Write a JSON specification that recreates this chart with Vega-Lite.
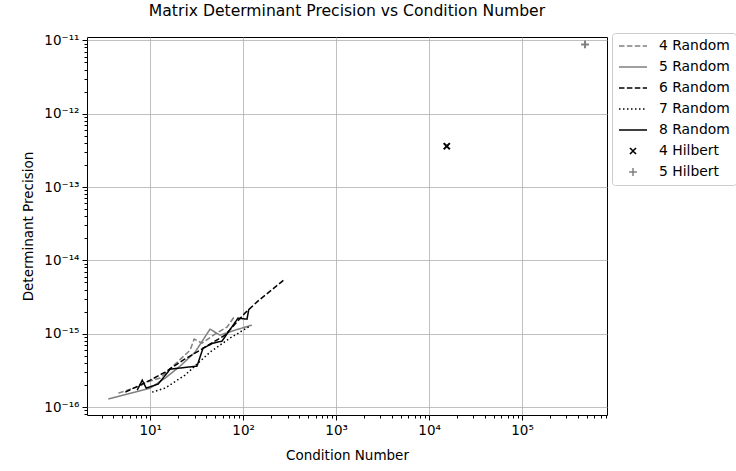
{
  "$schema": "https://vega.github.io/schema/vega-lite/v6.json",
  "width": 520,
  "height": 378,
  "autosize": {"type": "none"},
  "padding": {"left": 87, "top": 37, "right": 129, "bottom": 56},
  "background": "white",
  "title": {"text": "Matrix Determinant Precision vs Condition Number", "fontSize": 15.6, "font": "DejaVu Sans", "fontWeight": "normal", "color": "black", "anchor": "middle", "offset": 13},
  "config": {
    "font": "DejaVu Sans",
    "view": {"stroke": "black", "strokeWidth": 1},
    "axis": {"domain": false, "gridColor": "#b0b0b0", "gridWidth": 0.8, "gridOpacity": 1, "tickColor": "black", "tickWidth": 1, "labelColor": "black", "titleColor": "black", "labelFontSize": 13.5, "titleFontSize": 13.5, "titleFontWeight": "normal", "labelFont": "DejaVu Sans", "titleFont": "DejaVu Sans"},
    "legend": {"labelFont": "DejaVu Sans"}
  },
  "datasets": {
    "lines": [
      {"series": "4 Random", "cond": 4.54, "prec": 1.551e-16},
      {"series": "4 Random", "cond": 7.81, "prec": 1.932e-16},
      {"series": "4 Random", "cond": 9.06, "prec": 2.19e-16},
      {"series": "4 Random", "cond": 12.8, "prec": 2.485e-16},
      {"series": "4 Random", "cond": 18.55, "prec": 3.852e-16},
      {"series": "4 Random", "cond": 26.9, "prec": 5.976e-16},
      {"series": "4 Random", "cond": 29.7, "prec": 8.44e-16},
      {"series": "4 Random", "cond": 36.1, "prec": 7.44e-16},
      {"series": "4 Random", "cond": 49.8, "prec": 9.88e-16},
      {"series": "4 Random", "cond": 67.0, "prec": 1.23e-15},
      {"series": "4 Random", "cond": 79.7, "prec": 1.683e-15},
      {"series": "5 Random", "cond": 3.54, "prec": 1.285e-16},
      {"series": "5 Random", "cond": 10, "prec": 1.815e-16},
      {"series": "5 Random", "cond": 14.5, "prec": 2.485e-16},
      {"series": "5 Random", "cond": 21.0, "prec": 3.62e-16},
      {"series": "5 Random", "cond": 30.4, "prec": 5.61e-16},
      {"series": "5 Random", "cond": 44.0, "prec": 1.155e-15},
      {"series": "5 Random", "cond": 56.4, "prec": 9.57e-16},
      {"series": "5 Random", "cond": 81.7, "prec": 1.119e-15},
      {"series": "5 Random", "cond": 124, "prec": 1.31e-15},
      {"series": "6 Random", "cond": 5.4, "prec": 1.6e-16},
      {"series": "6 Random", "cond": 10, "prec": 2.33e-16},
      {"series": "6 Random", "cond": 14.5, "prec": 3.0e-16},
      {"series": "6 Random", "cond": 22.6, "prec": 4.37e-16},
      {"series": "6 Random", "cond": 34.4, "prec": 5.98e-16},
      {"series": "6 Random", "cond": 63.8, "prec": 9.57e-16},
      {"series": "6 Random", "cond": 104.5, "prec": 1.91e-15},
      {"series": "6 Random", "cond": 144, "prec": 2.78e-15},
      {"series": "6 Random", "cond": 281, "prec": 5.54e-15},
      {"series": "7 Random", "cond": 10.5, "prec": 1.6e-16},
      {"series": "7 Random", "cond": 14.5, "prec": 1.815e-16},
      {"series": "7 Random", "cond": 23.7, "prec": 2.73e-16},
      {"series": "7 Random", "cond": 44.0, "prec": 5.61e-16},
      {"series": "7 Random", "cond": 72.2, "prec": 8.71e-16},
      {"series": "7 Random", "cond": 118, "prec": 1.27e-15},
      {"series": "8 Random", "cond": 7.25, "prec": 1.7e-16},
      {"series": "8 Random", "cond": 8.21, "prec": 2.33e-16},
      {"series": "8 Random", "cond": 9.06, "prec": 1.815e-16},
      {"series": "8 Random", "cond": 12.2, "prec": 2.06e-16},
      {"series": "8 Random", "cond": 16.4, "prec": 3.29e-16},
      {"series": "8 Random", "cond": 31.9, "prec": 3.62e-16},
      {"series": "8 Random", "cond": 37.0, "prec": 6.36e-16},
      {"series": "8 Random", "cond": 47.4, "prec": 7.44e-16},
      {"series": "8 Random", "cond": 59.2, "prec": 7.93e-16},
      {"series": "8 Random", "cond": 88.0, "prec": 1.63e-15},
      {"series": "8 Random", "cond": 110, "prec": 1.58e-15},
      {"series": "8 Random", "cond": 115, "prec": 2.16e-15}
    ],
    "hilbert": [
      {"series": "4 Hilbert", "cond": 15500, "prec": 3.6e-13},
      {"series": "5 Hilbert", "cond": 476000, "prec": 8.8e-12}
    ]
  },
  "resolve": {"axis": {"x": "independent", "y": "independent"}},
  "layer": [
    {
      "data": {"name": "lines"},
      "mark": {"type": "line", "strokeWidth": 1.5},
      "encoding": {
        "x": {"field": "cond", "type": "quantitative",
          "scale": {"type": "log", "domain": [2.09, 820000], "nice": false},
          "axis": {"orient": "bottom", "values": [10, 100, 1000, 10000, 100000], "grid": true, "tickSize": 5, "labelPadding": 3, "title": "Condition Number", "titlePadding": 12,
            "labelExpr": "'10' + ['⁰','¹','²','³','⁴','⁵','⁶'][round(log(datum.value)/LN10)]"}},
        "y": {"field": "prec", "type": "quantitative",
          "scale": {"type": "log", "domain": [7.8e-17, 1.11e-11], "nice": false},
          "axis": {"orient": "left", "values": [1e-16, 1e-15, 1e-14, 1e-13, 1e-12, 1e-11], "grid": true, "tickSize": 5, "labelPadding": 3, "title": "Determinant Precision", "titlePadding": 8,
            "labelExpr": "'10⁻' + ['⁰','¹','²','³','⁴','⁵','⁶','⁷','⁸','⁹','¹⁰','¹¹','¹²','¹³','¹⁴','¹⁵','¹⁶','¹⁷'][-round(log(datum.value)/LN10)]"}},
        "color": {"field": "series", "type": "nominal",
          "scale": {"domain": ["4 Random", "5 Random", "6 Random", "7 Random", "8 Random", "4 Hilbert", "5 Hilbert"],
            "range": ["#808080", "#808080", "#000000", "#000000", "#000000", "#000000", "#808080"]},
          "legend": {"title": null, "orient": "none", "legendX": 525, "legendY": -4, "padding": 6, "strokeColor": "#cccccc", "fillColor": "white", "cornerRadius": 3,
            "symbolSize": 784, "symbolStrokeWidth": 1.5, "clipHeight": 14, "rowPadding": 7, "labelOffset": 11, "symbolOffset": 0, "labelFontSize": 13.9, "labelColor": "black"}},
        "strokeDash": {"field": "series", "type": "nominal",
          "scale": {"domain": ["4 Random", "5 Random", "6 Random", "7 Random", "8 Random", "4 Hilbert", "5 Hilbert"],
            "range": [[5.5, 2.4], [1, 0], [5.5, 2.4], [1.5, 2.5], [1, 0], [1, 0], [1, 0]]}}
      }
    },
    {
      "data": {"name": "hilbert"},
      "mark": {"type": "point", "size": 784, "strokeWidth": 2, "filled": false, "opacity": 1},
      "encoding": {
        "x": {"field": "cond", "type": "quantitative",
          "axis": {"orient": "bottom", "values": [3,4,5,6,7,8,9,20,30,40,50,60,70,80,90,200,300,400,500,600,700,800,900,2000,3000,4000,5000,6000,7000,8000,9000,20000,30000,40000,50000,60000,70000,80000,90000,200000,300000,400000,500000,600000,700000,800000], "grid": false, "labels": false, "tickSize": 3, "title": null}},
        "y": {"field": "prec", "type": "quantitative",
          "axis": {"orient": "left", "values": [8e-17,9e-17,2e-16,3e-16,4e-16,5e-16,6e-16,7e-16,8e-16,9e-16,2e-15,3e-15,4e-15,5e-15,6e-15,7e-15,8e-15,9e-15,2e-14,3e-14,4e-14,5e-14,6e-14,7e-14,8e-14,9e-14,2e-13,3e-13,4e-13,5e-13,6e-13,7e-13,8e-13,9e-13,2e-12,3e-12,4e-12,5e-12,6e-12,7e-12,8e-12,9e-12], "grid": false, "labels": false, "tickSize": 3, "title": null}},
        "color": {"field": "series", "type": "nominal"},
        "shape": {"field": "series", "type": "nominal",
          "scale": {"domain": ["4 Random", "5 Random", "6 Random", "7 Random", "8 Random", "4 Hilbert", "5 Hilbert"],
            "range": ["stroke", "stroke", "stroke", "stroke", "stroke", "M-0.22,-0.22L0.22,0.22M-0.22,0.22L0.22,-0.22", "M-0.28,0L0.28,0M0,-0.28L0,0.28"]}},
        "strokeDash": {"field": "series", "type": "nominal"}
      }
    }
  ]
}
